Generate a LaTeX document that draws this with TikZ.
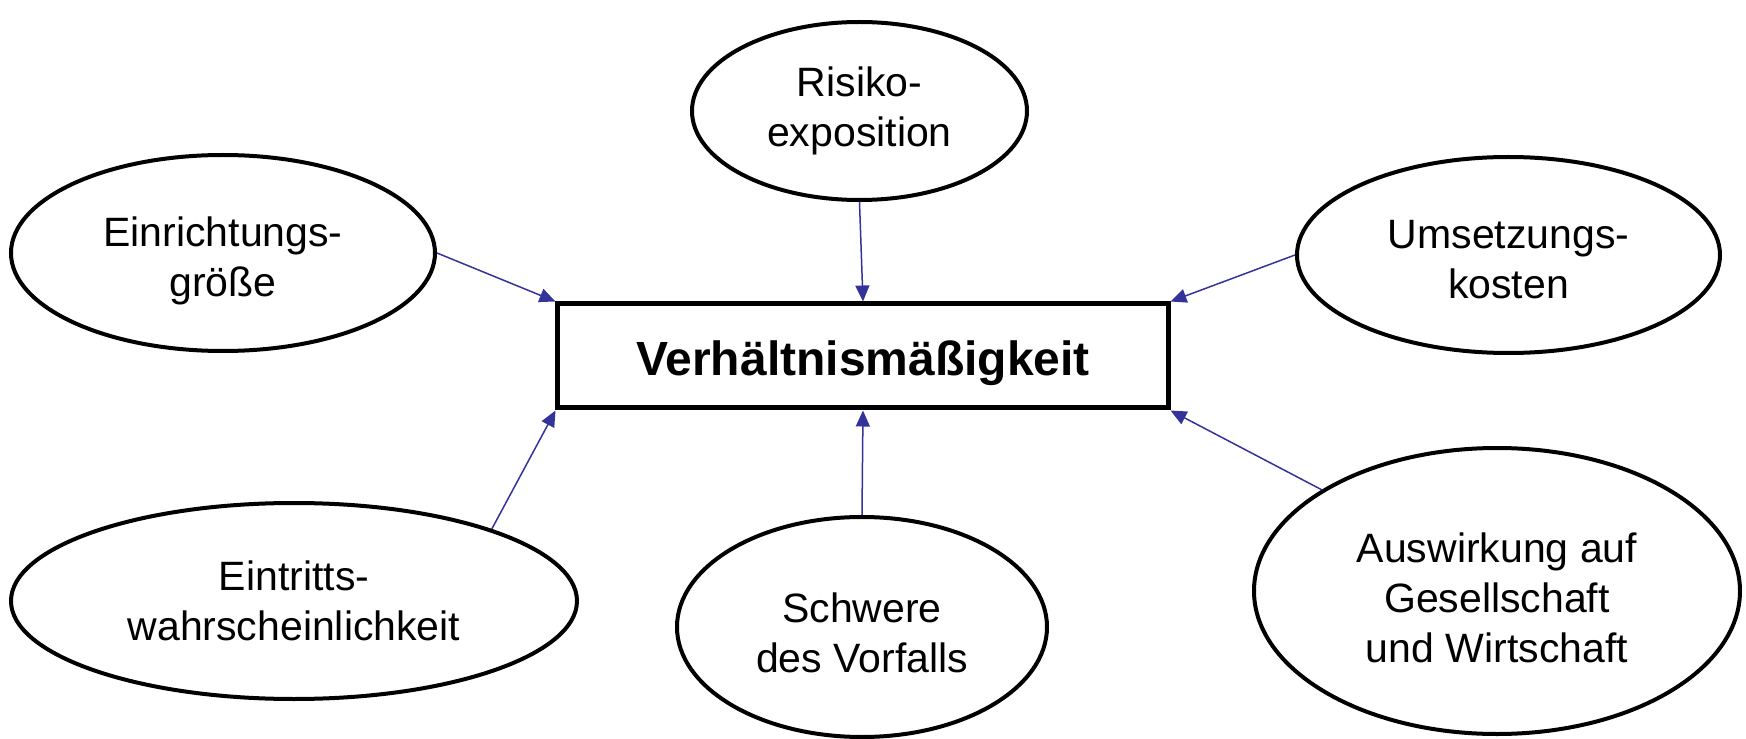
\documentclass[tikz,border=0pt]{standalone}
\usepackage{fontspec}
\setmainfont{Liberation Sans}
\usepackage{tikz}
\usetikzlibrary{shapes.geometric}
\usetikzlibrary{arrows.meta}
\usetikzlibrary{positioning}
\usepackage{xcolor}
\definecolor{linkblue}{RGB}{51,51,153}
\tikzset{%
  factor/.style={ellipse,draw,line width=2pt,inner sep=0pt,align=center,
    text depth=5pt,font=\fontsize{20.5}{25}\selectfont},
  goal/.style={rectangle,draw,line width=2.5pt,inner sep=0pt,
    minimum width=305pt,minimum height=52pt,text height=24pt,text depth=5pt,
    font=\fontsize{24}{28}\selectfont\bfseries},
  influence/.style={-{Triangle[length=8pt,width=7pt]},line width=0.75pt,linkblue}
}

\begin{document}
\begin{tikzpicture}
  \useasboundingbox (-431.5pt,-191.5pt) rectangle (441.5pt,178pt);

  \node[goal] (verh) at (0,0) {Verhältnismäßigkeit};

  % factors round the centre box
  \node[factor,minimum width=167.5pt,minimum height=89pt,text height=40.7pt,
        above=49.75pt of verh,xshift=-1.75pt] (risiko) {Risiko-\\exposition};
  \node[factor,minimum width=212pt,minimum height=98pt,text height=49pt,
        left=59.25pt of verh,yshift=51.5pt] (einr) {Einrichtungs-\\größe};
  \node[factor,minimum width=211.5pt,minimum height=98pt,text height=49pt,
        right=62.25pt of verh,yshift=50.5pt] (ums) {Umsetzungs-\\kosten};
  \node[factor,minimum width=185pt,minimum height=110pt,text height=50pt,
        below=52.25pt of verh,xshift=-0.5pt] (schwere) {Schwere\\des Vorfalls};
  \node[factor,minimum width=283pt,minimum height=98pt,text height=44.7pt,
        below=74pt of einr,xshift=35.5pt] (eint) {Eintritts-\\wahrscheinlichkeit};
  \node[factor,minimum width=243pt,minimum height=143pt,text height=76.4pt,
        below=45.5pt of ums,xshift=-5.75pt] (ausw) {Auswirkung auf\\Gesellschaft\\und Wirtschaft};

  \draw[influence] (einr.east) -- (verh.north west);
  \draw[influence] (risiko.south) -- (verh.north);
  \draw[influence] (ums.west) -- (verh.north east);
  \draw[influence] (eint.20) -- (verh.south west);
  \draw[influence] (schwere.north) -- (verh.south);
  \draw[influence] (ausw.150) -- (verh.south east);
\end{tikzpicture}
\end{document}
